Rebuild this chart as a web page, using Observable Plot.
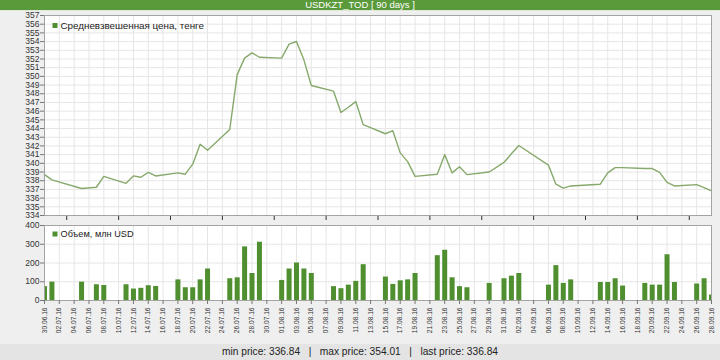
<!DOCTYPE html>
<html>
<head>
<meta charset="utf-8">
<script src="https://cdn.jsdelivr.net/npm/d3@7"></script>
<script src="https://cdn.jsdelivr.net/npm/@observablehq/plot@0.6"></script>
<style>
  body { margin: 0; background: #efefef; }
  #wrap { position: relative; width: 720px; height: 360px; background: #efefef; overflow: hidden; font-family: "Liberation Sans", Arial, sans-serif; }
  #title { position: absolute; left: 0; top: 0; width: 720px; height: 10px; background: #5b9a3a; color: #fff; font-size: 9.5px; line-height: 9px; text-align: center; border-bottom: 1px solid #dfe9d8; overflow: hidden; z-index: 5; white-space: nowrap; }
  #footer { position: absolute; left: 0; top: 344px; width: 720px; height: 16px; background: #e4e4e4; color: #222; font-size: 10.2px; line-height: 16px; text-align: center; white-space: pre; z-index: 5; }
  .pl { position: absolute; left: 0; }
</style>
</head>
<body>
<div id="wrap">
  <div id="title">USDKZT_TOD [ 90 days ]</div>
  <div id="footer">min price: 336.84   |   max price: 354.01   |   last price: 336.84</div>
</div>
<script>
// trading days
const dates = [
  "2016-06-30","2016-07-01","2016-07-05","2016-07-07","2016-07-08",
  "2016-07-11","2016-07-12","2016-07-13","2016-07-14","2016-07-15",
  "2016-07-18","2016-07-19","2016-07-20","2016-07-21","2016-07-22",
  "2016-07-25","2016-07-26","2016-07-27","2016-07-28","2016-07-29",
  "2016-08-01","2016-08-02","2016-08-03","2016-08-04","2016-08-05",
  "2016-08-08","2016-08-09","2016-08-10","2016-08-11","2016-08-12",
  "2016-08-15","2016-08-16","2016-08-17","2016-08-18","2016-08-19",
  "2016-08-22","2016-08-23","2016-08-24","2016-08-25","2016-08-26",
  "2016-08-29","2016-08-31","2016-09-01","2016-09-02",
  "2016-09-06","2016-09-07","2016-09-08","2016-09-09",
  "2016-09-13","2016-09-14","2016-09-15","2016-09-16",
  "2016-09-19","2016-09-20","2016-09-21","2016-09-22","2016-09-23",
  "2016-09-26","2016-09-27","2016-09-28"
];
// weighted average price, tenge
const prices = [
  338.7, 338.1, 337.1, 337.25, 338.5,
  337.7, 338.55, 338.4, 338.95, 338.55,
  338.9, 338.75, 339.9, 342.2, 341.5,
  343.9, 350.2, 352.1, 352.7, 352.2,
  352.1, 353.7, 354.01, 351.9, 348.95,
  348.3, 345.85, 346.45, 347.1, 344.45,
  343.4, 343.75, 341.2, 340.2, 338.5,
  338.75, 341.0, 338.9, 339.6, 338.7,
  339.0, 340.1, 341.1, 342.05,
  339.8, 337.6, 337.15, 337.4,
  337.6, 338.9, 339.5, 339.5,
  339.4, 339.4, 338.95, 337.8, 337.4,
  337.55, 337.2, 336.84
];
// volume, mln USD
const volumes = [
  74, 98, 98, 84, 80,
  84, 61, 65, 79, 75,
  110, 68, 68, 110, 168,
  116, 121, 286, 144, 311,
  107, 168, 200, 168, 144,
  74, 63, 82, 102, 191,
  125, 86, 105, 110, 144,
  239, 268, 121, 74, 68,
  91, 116, 130, 144,
  82, 186, 91, 110,
  96, 96, 116, 77,
  91, 82, 82, 244, 96,
  88, 116, 30
];
const xTickLabels = [
  "30.06.16","02.07.16","04.07.16","06.07.16","08.07.16","10.07.16","12.07.16","14.07.16",
  "16.07.16","18.07.16","20.07.16","22.07.16","24.07.16","26.07.16","28.07.16","30.07.16",
  "01.08.16","03.08.16","05.08.16","07.08.16","09.08.16","11.08.16","13.08.16","15.08.16",
  "17.08.16","19.08.16","21.08.16","23.08.16","25.08.16","27.08.16","29.08.16","31.08.16",
  "02.09.16","04.09.16","06.09.16","08.09.16","10.09.16","12.09.16","14.09.16","16.09.16",
  "18.09.16","20.09.16","22.09.16","24.09.16","26.09.16","28.09.16"
];
const priceTicks = [334,335,336,337,338,339,340,341,342,343,344,345,346,347,348,349,350,351,352,353,354,355,356,357];
const volumeTicks = [0, 100, 200, 300, 400];
const priceLegend = "Средневзвешенная цена, тенге";
const volumeLegend = "Объем, млн USD";

const parseLabel = d3.utcParse("%d.%m.%y");
const tickDates = xTickLabels.map(parseLabel);
const rows = dates.map((d, i) => ({date: d3.utcParse("%Y-%m-%d")(d), price: prices[i], vol: volumes[i]}));
const xDomain = [tickDates[0], tickDates[tickDates.length - 1]];

const lineColor = "#86a96c";
const barColor = "#4f8f2f";
const gridColor = "#e6e6e6";
const frameColor = "#a3a3a3";
const fontFam = "'Liberation Sans', Arial, sans-serif";

function legend(text, dy, size) {
  return [
    Plot.dot([text], {frameAnchor: "top-left", dx: 10.5, dy, symbol: "square", r: 2.8, fill: barColor, stroke: null}),
    Plot.text([text], {frameAnchor: "top-left", dx: 16, dy, text: d => d, textAnchor: "start", lineAnchor: "middle", fontSize: size, fill: "#222"})
  ];
}

const topPlot = Plot.plot({
  width: 720, height: 210,
  marginLeft: 44, marginRight: 9, marginTop: 5, marginBottom: 5,
  style: {background: "transparent", fontFamily: fontFam, color: "#333"},
  x: {type: "utc", domain: xDomain, label: null},
  y: {domain: [334, 357], label: null},
  marks: [
    Plot.frame({fill: "white", stroke: null}),
    Plot.ruleX(tickDates, {stroke: gridColor}),
    Plot.ruleY(priceTicks, {stroke: gridColor}),
    Plot.line(rows, {x: "date", y: "price", stroke: lineColor, strokeWidth: 1.4}),
    Plot.frame({stroke: frameColor}),
    Plot.axisY({ticks: priceTicks, label: null, tickSize: 4, tickPadding: 1, fontSize: 8.5, stroke: "#777", fill: "#333"}),
    ...legend(priceLegend, 10, 9.8)
  ]
});
topPlot.classList.add("pl");
topPlot.style.top = "10px";

const botPlot = Plot.plot({
  width: 720, height: 125,
  marginLeft: 44, marginRight: 9, marginTop: 5, marginBottom: 45,
  style: {background: "transparent", fontFamily: fontFam, color: "#333"},
  x: {type: "utc", domain: xDomain, label: null},
  y: {domain: [0, 400], label: null},
  marks: [
    Plot.frame({fill: "white", stroke: null}),
    Plot.ruleX(tickDates, {stroke: gridColor}),
    Plot.ruleY(volumeTicks, {stroke: gridColor}),
    Plot.ruleX(rows, {x: "date", y1: 0, y2: "vol", stroke: barColor, strokeWidth: 5, clip: true}),
    Plot.frame({stroke: frameColor}),
    Plot.axisY({ticks: volumeTicks, label: null, tickSize: 4, tickPadding: 1, fontSize: 8.5, stroke: "#777", fill: "#333"}),
    Plot.axisX({ticks: tickDates, label: null, tickFormat: d3.utcFormat("%d.%m.%y"), tickRotate: -90, tickSize: 4, tickPadding: 3, fontSize: 6.6, stroke: "#777", fill: "#333"}),
    ...legend(volumeLegend, 8.5, 9.2)
  ]
});
botPlot.classList.add("pl");
botPlot.style.top = "220px";

const wrap = document.getElementById("wrap");
wrap.insertBefore(botPlot, wrap.firstChild);
wrap.insertBefore(topPlot, wrap.firstChild);
</script>
</body>
</html>
